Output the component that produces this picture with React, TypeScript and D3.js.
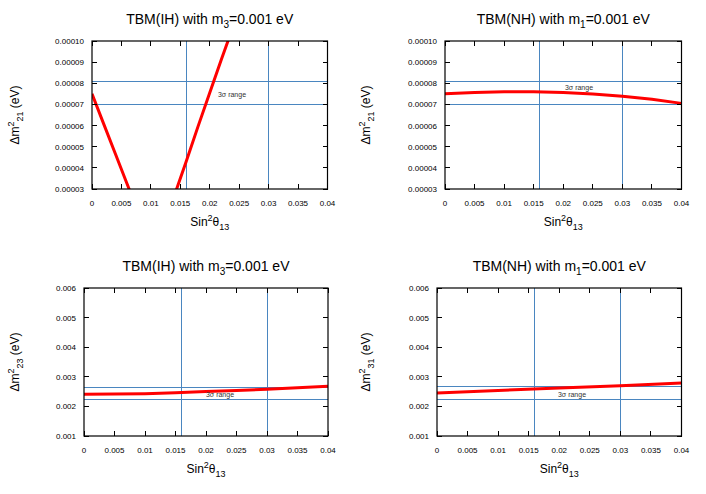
import React from "react";
import * as d3 from "d3";

const xTicks = [0, 0.005, 0.01, 0.015, 0.02, 0.025, 0.03, 0.035, 0.04];
const xTickLabels = ["0", "0.005", "0.01", "0.015", "0.02", "0.025", "0.03", "0.035", "0.04"];

const yTicksSolar = [0.00003, 0.00004, 0.00005, 0.00006, 0.00007, 0.00008, 0.00009, 0.0001];
const yTickLabelsSolar = ["0.00003", "0.00004", "0.00005", "0.00006", "0.00007", "0.00008", "0.00009", "0.00010"];
const yTicksAtm = [0.001, 0.002, 0.003, 0.004, 0.005, 0.006];
const yTickLabelsAtm = ["0.001", "0.002", "0.003", "0.004", "0.005", "0.006"];

// red curves
const ihSolarX = [0, 0.002, 0.004, 0.006, 0.008, 0.0105, 0.012, 0.014, 0.016, 0.018, 0.02, 0.022, 0.024];
const ihSolarY = [7.5e-5, 6.07e-5, 4.64e-5, 3.21e-5, 1.8e-5, 0, 1.1e-5, 2.7e-5, 4.3e-5, 5.95e-5, 7.55e-5, 9.15e-5, 10.7e-5];
const nhSolarX = [0, 0.005, 0.01, 0.015, 0.02, 0.025, 0.03, 0.035, 0.04];
const nhSolarY = [7.5e-5, 7.56e-5, 7.6e-5, 7.6e-5, 7.56e-5, 7.49e-5, 7.39e-5, 7.24e-5, 7.05e-5];
const ihAtmX = [0, 0.005, 0.01, 0.015, 0.02, 0.025, 0.03, 0.035, 0.04];
const ihAtmY = [0.00241, 0.00242, 0.00243, 0.00246, 0.0025, 0.00254, 0.00258, 0.00263, 0.00268];
const nhAtmX = [0, 0.01, 0.02, 0.03, 0.04];
const nhAtmY = [0.00245, 0.00254, 0.00262, 0.0027, 0.00279];

// 3 sigma bounds
const theta13Range = [0.016, 0.03];
const solarRange = [7.0e-5, 8.1e-5];
const ihAtmRange = [0.00223, 0.00265];
const nhAtmRange = [0.00225, 0.00268];

const FONT = "'Liberation Sans', Arial, sans-serif";
const BLUE = "#4a86c0";

type PanelProps = {
  id: string;
  left: number;
  right: number;
  top: number;
  bottom: number;
  yDomain: [number, number];
  yTicks: number[];
  yLabels: string[];
  xs: number[];
  ys: number[];
  hRange: number[];
  title: [string, string];
  yLab: string;
  yLabX: number;
  noteX: number;
  noteY: number;
};

const Panel = (p: PanelProps) => {
  const x = d3.scaleLinear().domain([0, 0.04]).range([p.left, p.right]);
  const y = d3.scaleLinear().domain(p.yDomain).range([p.bottom, p.top]);
  const line = d3
    .line<number>()
    .x((d, i) => x(p.xs[i]))
    .y((d) => y(d));
  const cx = (p.left + p.right) / 2;
  const cy = (p.top + p.bottom) / 2;
  const t = 5;
  return (
    <g fontFamily={FONT}>
      <defs>
        <clipPath id={p.id}>
          <rect x={p.left} y={p.top} width={p.right - p.left} height={p.bottom - p.top} />
        </clipPath>
      </defs>
      <text x={cx} y={p.top - 17} textAnchor="middle" fontSize={14}>
        {p.title[0]}
        <tspan fontSize={10} dy={4}>{p.title[1]}</tspan>
        <tspan dy={-4}>=0.001 eV</tspan>
      </text>
      <g clipPath={`url(#${p.id})`}>
        {theta13Range.map((v) => (
          <line
            key={v}
            x1={x(v)}
            x2={x(v)}
            y1={p.top}
            y2={p.bottom}
            stroke={BLUE}
            strokeWidth={1}
            shapeRendering="crispEdges"
          />
        ))}
        {p.hRange.map((v) => (
          <line
            key={v}
            x1={p.left}
            x2={p.right}
            y1={y(v)}
            y2={y(v)}
            stroke={BLUE}
            strokeWidth={1}
            shapeRendering="crispEdges"
          />
        ))}
        <path d={line(p.ys) || ""} fill="none" stroke="#ff0000" strokeWidth={3} />
      </g>
      <text x={p.noteX} y={p.noteY} fontSize={7} textAnchor="middle" fill="#333">
        3σ range
      </text>
      {xTicks.map((v, i) => (
        <g key={v}>
          <line x1={x(v)} x2={x(v)} y1={p.bottom} y2={p.bottom - t} stroke="#000" shapeRendering="crispEdges" />
          <line x1={x(v)} x2={x(v)} y1={p.top} y2={p.top + t} stroke="#000" shapeRendering="crispEdges" />
          <text x={x(v)} y={p.bottom + 17} textAnchor="middle" fontSize={8}>
            {xTickLabels[i]}
          </text>
        </g>
      ))}
      {p.yTicks.map((v, i) => (
        <g key={v}>
          <line x1={p.left} x2={p.left + t} y1={y(v)} y2={y(v)} stroke="#000" shapeRendering="crispEdges" />
          <line x1={p.right} x2={p.right - t} y1={y(v)} y2={y(v)} stroke="#000" shapeRendering="crispEdges" />
          <text x={p.left - 8} y={y(v) + 3} textAnchor="end" fontSize={8}>
            {p.yLabels[i]}
          </text>
        </g>
      ))}
      <rect
        x={p.left}
        y={p.top}
        width={p.right - p.left}
        height={p.bottom - p.top}
        fill="none"
        stroke="#000"
        strokeWidth={1.2}
      />
      <text x={cx} y={p.bottom + 37} textAnchor="middle" fontSize={12}>
        Sin<tspan fontSize={9} dy={-5}>2</tspan>
        <tspan dy={5}>θ</tspan>
        <tspan fontSize={9} dy={4}>13</tspan>
      </text>
      <text
        transform={`translate(${p.yLabX},${cy}) rotate(-90)`}
        textAnchor="middle"
        fontSize={12}
      >
        Δm<tspan fontSize={9} dy={-5}>2</tspan>
        <tspan fontSize={9} dy={9}>{p.yLab}</tspan>
        <tspan dy={-4}> (eV)</tspan>
      </text>
    </g>
  );
};

export default function App() {
  return (
    <svg width={706} height={494} style={{ display: "block", position: "absolute", left: 0, top: 0 }}>
      <rect width={706} height={494} fill="#fff" />
      <Panel
        id="c1"
        left={92}
        right={327.5}
        top={41}
        bottom={189}
        yDomain={[0.00003, 0.0001]}
        yTicks={yTicksSolar}
        yLabels={yTickLabelsSolar}
        xs={ihSolarX}
        ys={ihSolarY}
        hRange={solarRange}
        title={["TBM(IH) with m", "3"]}
        yLab="21"
        yLabX={19}
        noteX={232}
        noteY={97}
      />
      <Panel
        id="c2"
        left={445}
        right={681.5}
        top={41}
        bottom={189}
        yDomain={[0.00003, 0.0001]}
        yTicks={yTicksSolar}
        yLabels={yTickLabelsSolar}
        xs={nhSolarX}
        ys={nhSolarY}
        hRange={solarRange}
        title={["TBM(NH) with m", "1"]}
        yLab="21"
        yLabX={370}
        noteX={579}
        noteY={90}
      />
      <Panel
        id="c3"
        left={84}
        right={328}
        top={288}
        bottom={436}
        yDomain={[0.001, 0.006]}
        yTicks={yTicksAtm}
        yLabels={yTickLabelsAtm}
        xs={ihAtmX}
        ys={ihAtmY}
        hRange={ihAtmRange}
        title={["TBM(IH) with m", "3"]}
        yLab="23"
        yLabX={19}
        noteX={220}
        noteY={397}
      />
      <Panel
        id="c4"
        left={437}
        right={681.5}
        top={288}
        bottom={436}
        yDomain={[0.001, 0.006]}
        yTicks={yTicksAtm}
        yLabels={yTickLabelsAtm}
        xs={nhAtmX}
        ys={nhAtmY}
        hRange={nhAtmRange}
        title={["TBM(NH) with m", "1"]}
        yLab="31"
        yLabX={370}
        noteX={572}
        noteY={397}
      />
    </svg>
  );
}
